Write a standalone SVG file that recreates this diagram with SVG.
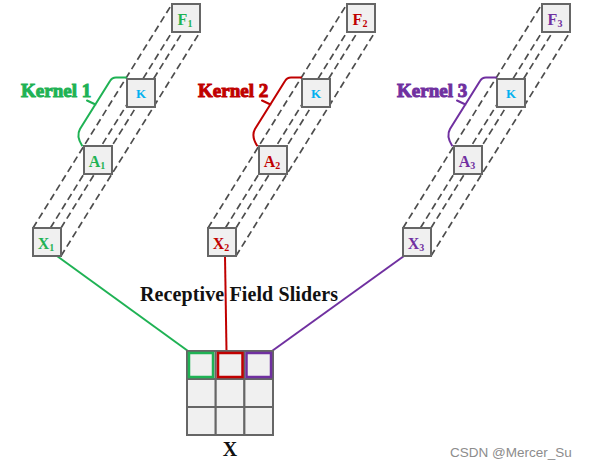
<svg xmlns="http://www.w3.org/2000/svg" width="590" height="469" viewBox="0 0 590 469">
<defs>
<style>
.edge{stroke:#4d4d4d;stroke-width:1.7;stroke-dasharray:7 4;fill:none}
.box{fill:#f0f0f0;stroke:#666;stroke-width:2}
.lbl{font-family:"Liberation Serif","Times New Roman",serif;font-weight:bold;font-size:16px;text-anchor:middle}
.k{font-family:"Liberation Serif","Times New Roman",serif;font-weight:bold;font-size:13px;text-anchor:middle;fill:#00b0f0}
.kern{font-family:"Liberation Serif","Times New Roman",serif;font-weight:bold;font-size:19px}
.br{fill:none;stroke-width:2;stroke-linecap:round}
.g{fill:#1fb254;stroke:#1fb254}
.r{fill:#c00000;stroke:#c00000}
.p{fill:#7030a0;stroke:#7030a0}
.conn{stroke-width:2;fill:none}
.cell{fill:#f0f0f0;stroke:#666;stroke-width:2}
</style>
</defs>
<rect width="590" height="469" fill="#fff"/>

<g id="column1">
<path class="edge" d="M33,228 L172,4 M61,228 L200,4 M33,256 L172,32 M61,256 L200,32"/>
</g>
<g id="column2">
<path class="edge" d="M208,228 L347,4 M236,228 L375,4 M208,256 L347,32 M236,256 L375,32"/>
</g>
<g id="column3">
<path class="edge" d="M403,228 L542,4 M431,228 L570,4 M403,256 L542,32 M431,256 L570,32"/>
</g>

<g id="connectors">
<line class="conn" x1="57" y1="256" x2="188" y2="351" stroke="#1fb254"/>
<line class="conn" x1="225" y1="256" x2="226.5" y2="351" stroke="#c00000"/>
<line class="conn" x1="404" y1="256" x2="272" y2="351" stroke="#7030a0"/>
</g>

<g id="X1"><rect class="box" x="33" y="228" width="28" height="28"/><text class="lbl" x="46" y="249" fill="#1fb254">X<tspan font-size="10" dy="2">1</tspan></text></g>
<g id="A1"><rect class="box" x="84" y="146" width="28" height="28"/><text class="lbl" x="97" y="167" fill="#1fb254">A<tspan font-size="10" dy="2">1</tspan></text></g>
<g id="K1"><rect class="box" x="127" y="79" width="28" height="28"/><text class="k" x="141" y="98">K</text></g>
<g id="F1"><rect class="box" x="172" y="4" width="28" height="28"/><text class="lbl" x="185" y="25" fill="#1fb254">F<tspan font-size="10" dy="2">1</tspan></text></g>

<g id="X2"><rect class="box" x="208" y="228" width="28" height="28"/><text class="lbl" x="221" y="249" fill="#c00000">X<tspan font-size="10" dy="2">2</tspan></text></g>
<g id="A2"><rect class="box" x="259" y="146" width="28" height="28"/><text class="lbl" x="272" y="167" fill="#c00000">A<tspan font-size="10" dy="2">2</tspan></text></g>
<g id="K2"><rect class="box" x="302" y="79" width="28" height="28"/><text class="k" x="316" y="98">K</text></g>
<g id="F2"><rect class="box" x="347" y="4" width="28" height="28"/><text class="lbl" x="360" y="25" fill="#c00000">F<tspan font-size="10" dy="2">2</tspan></text></g>

<g id="X3"><rect class="box" x="403" y="228" width="28" height="28"/><text class="lbl" x="416" y="249" fill="#7030a0">X<tspan font-size="10" dy="2">3</tspan></text></g>
<g id="A3"><rect class="box" x="454" y="146" width="28" height="28"/><text class="lbl" x="467" y="167" fill="#7030a0">A<tspan font-size="10" dy="2">3</tspan></text></g>
<g id="K3"><rect class="box" x="497" y="79" width="28" height="28"/><text class="k" x="511" y="98">K</text></g>
<g id="F3"><rect class="box" x="542" y="4" width="28" height="28"/><text class="lbl" x="555" y="25" fill="#7030a0">F<tspan font-size="10" dy="2">3</tspan></text></g>

<g id="kernel1">
<path class="br" stroke="#1fb254" d="M126,77.5 L116,77.5 Q112,77.5 110,81 L80,129 Q76,136 82,145.5 M95.5,104.5 L87,100.5"/>
<text class="kern g" x="21" y="97" stroke="none">Kernel 1</text>
</g>
<g id="kernel2">
<path class="br" stroke="#c00000" d="M301,77.5 L291,77.5 Q287,77.5 285,81 L255,129 Q251,136 257,145.5 M270.5,104.5 L262,100.5"/>
<text class="kern r" x="198" y="97" stroke="none">Kernel 2</text>
</g>
<g id="kernel3">
<path class="br" stroke="#7030a0" d="M496,77.5 L486,77.5 Q482,77.5 480,81 L450,129 Q446,136 452,145.5 M465.5,104.5 L457,100.5"/>
<text class="kern p" x="397" y="97" stroke="none">Kernel 3</text>
</g>

<text x="140" y="301" font-family="Liberation Serif, Times New Roman, serif" font-weight="bold" font-size="20" fill="#111" textLength="198">Receptive Field Sliders</text>

<g id="gridX">
<rect class="cell" x="187" y="351" width="28.7" height="28"/>
<rect class="cell" x="215.7" y="351" width="28.7" height="28"/>
<rect class="cell" x="244.4" y="351" width="28.6" height="28"/>
<rect class="cell" x="187" y="379" width="28.7" height="28"/>
<rect class="cell" x="215.7" y="379" width="28.7" height="28"/>
<rect class="cell" x="244.4" y="379" width="28.6" height="28"/>
<rect class="cell" x="187" y="407" width="28.7" height="28"/>
<rect class="cell" x="215.7" y="407" width="28.7" height="28"/>
<rect class="cell" x="244.4" y="407" width="28.6" height="28"/>
<rect x="189" y="353" width="24" height="24" fill="none" stroke="#1fb254" stroke-width="2.5"/>
<rect x="218" y="353" width="24.5" height="24" fill="none" stroke="#c00000" stroke-width="2.5"/>
<rect x="246.5" y="353" width="24.5" height="24" fill="none" stroke="#7030a0" stroke-width="2.5"/>
<text x="230" y="456" font-family="Liberation Serif, Times New Roman, serif" font-weight="bold" font-size="20" fill="#111" text-anchor="middle">X</text>
</g>

<text x="450" y="457" font-family="Liberation Sans, Arial, sans-serif" font-size="13.5" fill="#8c8c8c">CSDN @Mercer_Su</text>
</svg>
